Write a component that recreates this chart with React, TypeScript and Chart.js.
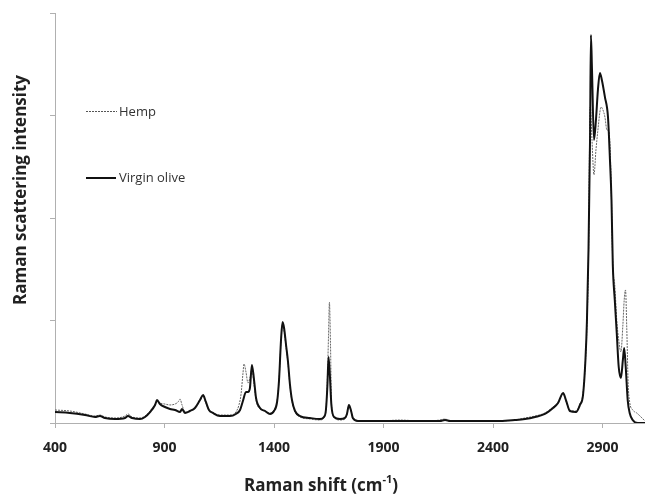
import React, { useEffect, useRef } from "react";
import { Chart, registerables } from "chart.js";

Chart.register(...registerables);

const seriesNames = ["Hemp", "Virgin olive"];
const xTickValues = [400, 900, 1400, 1900, 2400, 2900];
const yTickValues = [0, 1, 2, 3, 4];
const xTitle = "Raman shift (cm";
const xTitleSup = "-1";
const xTitleEnd = ")";
const yTitle = "Raman scattering intensity";

const oliveShift = [
  400, 468, 537, 583, 605, 628, 674, 720, 733, 752, 788, 811, 834, 857, 866, 879, 902, 925, 948, 971,
  980, 994, 1016, 1039, 1062, 1076, 1089, 1103, 1121, 1153, 1199, 1226, 1245, 1258, 1272, 1281, 1290, 1299, 1308, 1318,
  1336, 1359, 1382, 1400, 1414, 1423, 1432, 1439, 1446, 1455, 1464, 1473, 1482, 1496, 1519, 1564, 1610, 1628, 1637, 1644,
  1649, 1655, 1662, 1674, 1701, 1724, 1733, 1742, 1751, 1760, 1783, 1884, 1975, 2067, 2158, 2181, 2204, 2340, 2432, 2500,
  2546, 2592, 2637, 2674, 2697, 2720, 2733, 2751, 2779, 2797, 2811, 2822, 2829, 2836, 2843, 2847, 2852, 2861, 2870, 2879,
  2888, 2897, 2911, 2925, 2934, 2941, 2947, 2956, 2965, 2974, 2984, 2993, 2999, 3006, 3015, 3024, 3038, 3061, 3094,
];
const oliveIntensity = [
  0.107, 0.098, 0.078, 0.059, 0.068, 0.049, 0.039, 0.049, 0.068, 0.049, 0.039, 0.059, 0.107, 0.176, 0.224, 0.185, 0.156, 0.137, 0.127, 0.107,
  0.137, 0.098, 0.117, 0.146, 0.224, 0.273, 0.205, 0.127, 0.098, 0.068, 0.068, 0.088, 0.127, 0.215, 0.302, 0.302, 0.341, 0.566, 0.439, 0.244,
  0.146, 0.117, 0.088, 0.117, 0.205, 0.42, 0.81, 0.985, 0.927, 0.761, 0.595, 0.371, 0.224, 0.117, 0.068, 0.049, 0.039, 0.059, 0.127, 0.371,
  0.644, 0.468, 0.176, 0.059, 0.039, 0.049, 0.088, 0.176, 0.127, 0.049, 0.02, 0.02, 0.02, 0.02, 0.02, 0.029, 0.02, 0.02, 0.02, 0.029,
  0.039, 0.059, 0.088, 0.146, 0.195, 0.293, 0.224, 0.117, 0.107, 0.176, 0.273, 0.615, 1.005, 1.688, 2.761, 3.785, 3.444, 2.761, 2.956, 3.249,
  3.415, 3.346, 3.18, 2.985, 2.566, 2.176, 1.541, 1.2, 0.878, 0.546, 0.439, 0.615, 0.732, 0.546, 0.224, 0.098, 0.029, 0.0, 0.0,
];

const hempShift = [
  400, 468, 537, 583, 605, 628, 674, 720, 733, 752, 788, 811, 834, 857, 866, 879, 902, 925, 948, 962,
  971, 980, 994, 1016, 1039, 1062, 1076, 1089, 1103, 1121, 1153, 1199, 1226, 1240, 1249, 1258, 1263, 1272, 1281, 1290,
  1299, 1308, 1318, 1336, 1359, 1382, 1400, 1414, 1423, 1432, 1439, 1446, 1455, 1464, 1473, 1482, 1496, 1519, 1564, 1610,
  1628, 1637, 1644, 1649, 1653, 1658, 1662, 1669, 1701, 1724, 1733, 1742, 1751, 1760, 1783, 1884, 1975, 2067, 2158, 2181,
  2204, 2340, 2432, 2500, 2546, 2592, 2637, 2674, 2697, 2720, 2733, 2751, 2779, 2797, 2811, 2822, 2829, 2836, 2840, 2843,
  2847, 2852, 2861, 2870, 2879, 2888, 2893, 2902, 2911, 2920, 2929, 2938, 2947, 2956, 2965, 2974, 2984, 2993, 2999, 3005,
  3011, 3017, 3024, 3038, 3056, 3094,
];
const hempIntensity = [
  0.127, 0.117, 0.088, 0.068, 0.078, 0.059, 0.049, 0.068, 0.088, 0.059, 0.049, 0.068, 0.117, 0.185, 0.215, 0.195, 0.185, 0.176, 0.185, 0.205,
  0.234, 0.176, 0.107, 0.117, 0.146, 0.215, 0.263, 0.195, 0.127, 0.098, 0.078, 0.078, 0.107, 0.176, 0.273, 0.478, 0.576, 0.498, 0.39, 0.439,
  0.517, 0.39, 0.224, 0.137, 0.117, 0.098, 0.127, 0.215, 0.42, 0.79, 0.956, 0.898, 0.741, 0.576, 0.361, 0.215, 0.107, 0.059, 0.039, 0.029,
  0.049, 0.117, 0.468, 0.859, 1.18, 0.761, 0.244, 0.078, 0.029, 0.039, 0.078, 0.166, 0.117, 0.039, 0.02, 0.02, 0.029, 0.02, 0.029, 0.039,
  0.02, 0.02, 0.02, 0.029, 0.049, 0.068, 0.098, 0.156, 0.205, 0.283, 0.215, 0.127, 0.117, 0.185, 0.293, 0.595, 0.956, 1.639, 2.566, 3.083,
  3.034, 2.761, 2.42, 2.663, 2.859, 3.034, 3.083, 3.054, 2.985, 2.859, 2.849, 2.468, 1.541, 1.346, 1.005, 0.81, 0.693, 0.956, 1.2, 1.298,
  0.907, 0.39, 0.205, 0.127, 0.098, 0.02,
];

const FONT = "'Open Sans', 'Liberation Sans', sans-serif";

const annotations = {
  id: "annotations",
  afterDraw(chart: any) {
    const ctx = chart.ctx as CanvasRenderingContext2D;
    ctx.save();
    // legend
    ctx.strokeStyle = "#555";
    ctx.lineWidth = 1;
    ctx.setLineDash([2, 1]);
    ctx.beginPath();
    ctx.moveTo(86, 111.5);
    ctx.lineTo(117, 111.5);
    ctx.stroke();
    ctx.setLineDash([]);
    ctx.strokeStyle = "#111";
    ctx.lineWidth = 2;
    ctx.beginPath();
    ctx.moveTo(86, 178);
    ctx.lineTo(116, 178);
    ctx.stroke();
    ctx.fillStyle = "#333";
    ctx.font = `13px ${FONT}`;
    ctx.textAlign = "left";
    ctx.textBaseline = "middle";
    ctx.fillText(seriesNames[0], 119, 112);
    ctx.fillText(seriesNames[1], 119, 178);

    // y title
    ctx.fillStyle = "#222";
    ctx.font = `bold 17px ${FONT}`;
    ctx.save();
    ctx.translate(21, 190);
    ctx.rotate(-Math.PI / 2);
    ctx.textAlign = "center";
    ctx.fillText(yTitle, 0, 0);
    ctx.restore();

    // x title with superscript
    const mainFont = `bold 17px ${FONT}`;
    const supFont = `bold 11px ${FONT}`;
    ctx.font = mainFont;
    const w1 = ctx.measureText(xTitle).width;
    const w3 = ctx.measureText(xTitleEnd).width;
    ctx.font = supFont;
    const w2 = ctx.measureText(xTitleSup).width;
    const total = w1 + w2 + w3;
    let x = 321 - total / 2;
    const y = 486;
    ctx.textAlign = "left";
    ctx.font = mainFont;
    ctx.fillText(xTitle, x, y);
    x += w1;
    ctx.font = supFont;
    ctx.fillText(xTitleSup, x, y - 6);
    x += w2;
    ctx.font = mainFont;
    ctx.fillText(xTitleEnd, x, y);
    ctx.restore();
  },
};

export default function App() {
  const canvasRef = useRef<HTMLCanvasElement | null>(null);

  useEffect(() => {
    const canvas = canvasRef.current;
    if (!canvas) return;
    const hempData = hempShift.map((s, i) => ({ x: s, y: hempIntensity[i] }));
    const oliveData = oliveShift.map((s, i) => ({ x: s, y: oliveIntensity[i] }));
    const chart = new Chart(canvas, {
      type: "line",
      data: {
        datasets: [
          {
            label: seriesNames[1],
            data: oliveData,
            borderColor: "#111",
            borderWidth: 2,
            pointRadius: 0,
            cubicInterpolationMode: "monotone",
            order: 0,
          },
          {
            label: seriesNames[0],
            data: hempData,
            borderColor: "#666",
            borderWidth: 1,
            borderDash: [2, 1],
            pointRadius: 0,
            cubicInterpolationMode: "monotone",
            order: 1,
          },
        ],
      },
      options: {
        responsive: false,
        animation: false,
        layout: { padding: { left: 0, right: 0, top: 13, bottom: 0 } },
        plugins: { legend: { display: false }, tooltip: { enabled: false } },
        scales: {
          x: {
            type: "linear",
            min: 400,
            max: 3094,
            afterBuildTicks: (s: any) => {
              s.ticks = xTickValues.map((v) => ({ value: v }));
            },
            afterFit: (s: any) => {
              s.height = 76;
            },
            grid: { drawOnChartArea: false, drawTicks: true, tickLength: 5, color: "#b0b0b0" },
            border: { display: true, color: "#b0b0b0", width: 1 },
            ticks: {
              color: "#222",
              font: { family: FONT, size: 14, weight: "bold" },
              padding: 12,
              maxRotation: 0,
              autoSkip: false,
              callback: (v: any) => String(v),
            },
          },
          y: {
            type: "linear",
            min: 0,
            max: 4,
            afterBuildTicks: (s: any) => {
              s.ticks = yTickValues.map((v) => ({ value: v }));
            },
            afterFit: (s: any) => {
              s.width = 55;
            },
            grid: { drawOnChartArea: false, drawTicks: true, tickLength: 5, color: "#b0b0b0" },
            border: { display: true, color: "#b0b0b0", width: 1 },
            ticks: { display: false },
          },
        },
      },
      plugins: [annotations],
    });
    return () => chart.destroy();
  }, []);

  return (
    <div style={{ position: "fixed", left: 0, top: 0, width: 645, height: 499, background: "#fff" }}>
      <canvas ref={canvasRef} width={645} height={499} style={{ display: "block" }} />
    </div>
  );
}
